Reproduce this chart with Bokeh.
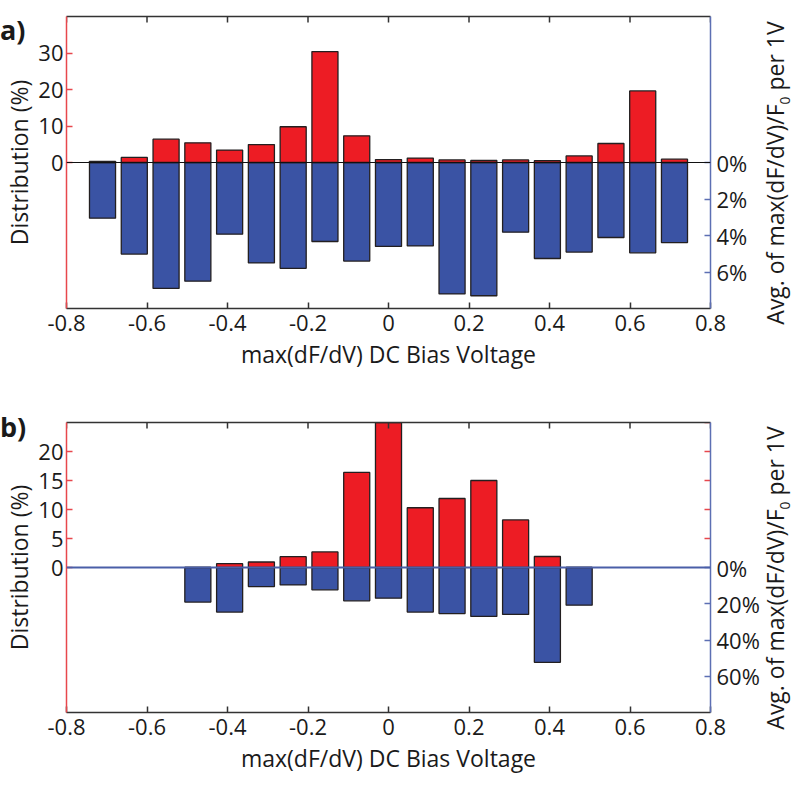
from bokeh.plotting import figure
from bokeh.models import (Range1d, LinearAxis, FixedTicker, Span, Div,
                          ColumnDataSource, PrintfTickFormatter)
from bokeh.layouts import column
from bokeh.embed import file_html
from bokeh.resources import INLINE

# ---------------- data ----------------
bin_lo, bin_hi, n_bins = -0.75, 0.75, 19
bin_centers = [bin_lo + (i + 0.5) * (bin_hi - bin_lo) / n_bins for i in range(n_bins)]

# panel a: distribution (%) and average max(dF/dV)/F0 per 1V (%)
dist_a = [0.3, 1.4, 6.4, 5.4, 3.4, 4.9, 9.8, 30.4, 7.3, 0.8,
          1.2, 0.7, 0.55, 0.7, 0.5, 1.8, 5.2, 19.6, 0.9]
avg_a = [3.05, 5.02, 6.9, 6.5, 3.93, 5.5, 5.8, 4.33, 5.4, 4.6,
         4.57, 7.2, 7.3, 3.82, 5.26, 4.91, 4.11, 4.95, 4.39]

# panel b: bins 3..15 only
centers_b = bin_centers[3:16]
dist_b = [0.0, 0.66, 0.95, 1.87, 2.68, 16.4, 26.0, 10.3, 11.9, 15.0, 8.2, 1.9, 0.0]
avg_b = [19.1, 24.6, 10.5, 9.6, 12.3, 18.4, 16.9, 24.6, 25.4, 27.0, 25.9, 52.3, 20.8]

x_ticks = [-0.8, -0.6, -0.4, -0.2, 0.0, 0.2, 0.4, 0.6, 0.8]
x_tick_labels = ["-0.8", "-0.6", "-0.4", "-0.2", "0", "0.2", "0.4", "0.6", "0.8"]

left_ticks_a = [0, 10, 20, 30]
right_ticks_a = [0, 2, 4, 6]
left_ticks_b = [0, 5, 10, 15, 20]
right_ticks_b = [0, 20, 40, 60]

x_title = "max(dF/dV) DC Bias Voltage"
y_title = "Distribution (%)"
y2_title_html = "Avg. of max(dF/dV)/F<sub style='font-size:60%'>0</sub> per 1V"
tags = ["a)", "b)"]

# ---------------- style ----------------
FONT = "Open Sans"
RED = "#ed1c24"
BLUE = "#3a53a4"
EDGE = "#231f20"
SPINE_RED = "#e8474d"
SPINE_BLUE = "#5d6fb3"
DARK = "#333333"
TXT = "#1a1a1a"
FS = "22px"
FS_T = "23px"
X_RANGE = (-0.8, 0.8)
FRAME_W = 644
TICK_PX = 6
TAG_H = 70


def make_panel(centers, dist, avg, left_lim, right_lim, left_ticks, right_ticks,
               zero_color, zero_width, frame_h, top_b, bot_b, mirror_ticks):
    p = figure(x_range=Range1d(*X_RANGE), y_range=Range1d(-left_lim, left_lim),
               frame_width=FRAME_W, frame_height=frame_h,
               min_border_left=55, min_border_right=87,
               min_border_top=top_b, min_border_bottom=bot_b,
               output_backend="svg", toolbar_location=None)
    p.outline_line_color = None
    p.grid.visible = False
    p.background_fill_color = "white"
    p.border_fill_color = None

    p.extra_y_ranges = {"avg": Range1d(start=right_lim, end=-right_lim)}

    width = 0.82 * (bin_hi - bin_lo) / n_bins
    src_d = ColumnDataSource(dict(x=centers, top=dist))
    src_a = ColumnDataSource(dict(x=centers, top=avg))
    p.vbar(x="x", top="top", bottom=0, width=width, source=src_a, y_range_name="avg",
           fill_color=BLUE, line_color=EDGE, line_width=1.3)
    p.vbar(x="x", top="top", bottom=0, width=width, source=src_d,
           fill_color=RED, line_color=EDGE, line_width=1.3)
    p.add_layout(Span(location=0, dimension="width", line_color=zero_color,
                      line_width=zero_width))

    # top ticks (inward) drawn as short segments at the x tick positions
    ty = TICK_PX * (2 * left_lim) / frame_h
    p.segment(x0=x_ticks, x1=x_ticks, y0=[left_lim] * len(x_ticks),
              y1=[left_lim - ty] * len(x_ticks), line_color=DARK, line_width=1.5)

    if mirror_ticks:
        tick_len = TICK_PX * (X_RANGE[1] - X_RANGE[0]) / FRAME_W
        mt = [t for t in left_ticks if t != 0] + [left_lim]
        p.segment(x0=[X_RANGE[1]] * len(mt), x1=[X_RANGE[1] - tick_len] * len(mt),
                  y0=mt, y1=mt, line_color=SPINE_RED, line_width=1.5)

    # bottom axis
    xa = p.xaxis[0]
    xa.ticker = FixedTicker(ticks=x_ticks)
    xa.major_label_overrides = {t: l for t, l in zip(x_ticks, x_tick_labels)}
    xa.axis_label = x_title
    xa.axis_label_standoff = 4
    # left axis
    ya = p.yaxis[0]
    ya.ticker = FixedTicker(ticks=left_ticks)
    ya.axis_label = y_title
    ya.axis_line_color = SPINE_RED
    ya.major_tick_line_color = SPINE_RED
    ya.axis_label_standoff = 0
    ya.major_label_standoff = 3
    # top spine only
    top = LinearAxis(ticker=FixedTicker(ticks=[]))
    p.add_layout(top, "above")
    # right axis (its title is drawn as rotated HTML text, see tag_div)
    ra = LinearAxis(y_range_name="avg", ticker=FixedTicker(ticks=right_ticks),
                    formatter=PrintfTickFormatter(format="%d%%"))
    ra.axis_line_color = SPINE_BLUE
    ra.major_tick_line_color = SPINE_BLUE
    ra.major_label_standoff = 6
    p.add_layout(ra, "right")

    for ax in [xa, ya, top, ra]:
        ax.major_tick_in = TICK_PX
        ax.major_tick_out = 0
        ax.minor_tick_line_color = None
        ax.major_label_text_font = FONT
        ax.axis_label_text_font = FONT
        ax.axis_label_text_font_style = "normal"
        ax.axis_label_text_font_size = FS_T
        ax.axis_label_text_color = TXT
        ax.major_label_text_color = TXT
        ax.axis_line_width = 1.5
        ax.major_tick_line_width = 1.5
        ax.major_label_text_font_size = FS
    xa.major_label_standoff = 6
    xa.axis_line_color = DARK
    xa.major_tick_line_color = DARK
    top.axis_line_color = DARK
    return p


def tag_div(text, pad_top, label_cx, label_cy):
    html = (
        "<div style='position:relative;width:0;height:0;overflow:visible'>"
        f"<div style='position:absolute;left:{label_cx}px;top:{label_cy}px;"
        "transform:translate(-50%,-50%) rotate(-90deg);white-space:nowrap;"
        f"font-family:\"{FONT}\";font-size:23px;font-weight:normal;color:{TXT};"
        f"line-height:1.2'>{y2_title_html}</div></div>"
        f"<div style='padding-top:{pad_top}px;font-family:\"{FONT}\";font-size:27px;"
        f"font-weight:bold;color:{TXT};line-height:1'>{text}</div>"
    )
    return Div(text=html, width=40, height=TAG_H, styles={"margin": "0"})


pa = make_panel(bin_centers, dist_a, avg_a, 40, 8, left_ticks_a, right_ticks_a,
                "#111111", 1.2, 292, 16, 72, False)
pb = make_panel(centers_b, dist_b, avg_b, 25, 80, left_ticks_b, right_ticks_b,
                "#4a5fa8", 2, 290, 42, 58, True)
pa.margin = (-TAG_H, 0, 0, 0)
pb.margin = (-TAG_H, 0, 0, 0)

layout = column(tag_div(tags[0], 16, 778, 173), pa,
                tag_div(tags[1], 33, 778, 198), pb, spacing=0)
open("out.html", "w").write(file_html(layout, INLINE))
